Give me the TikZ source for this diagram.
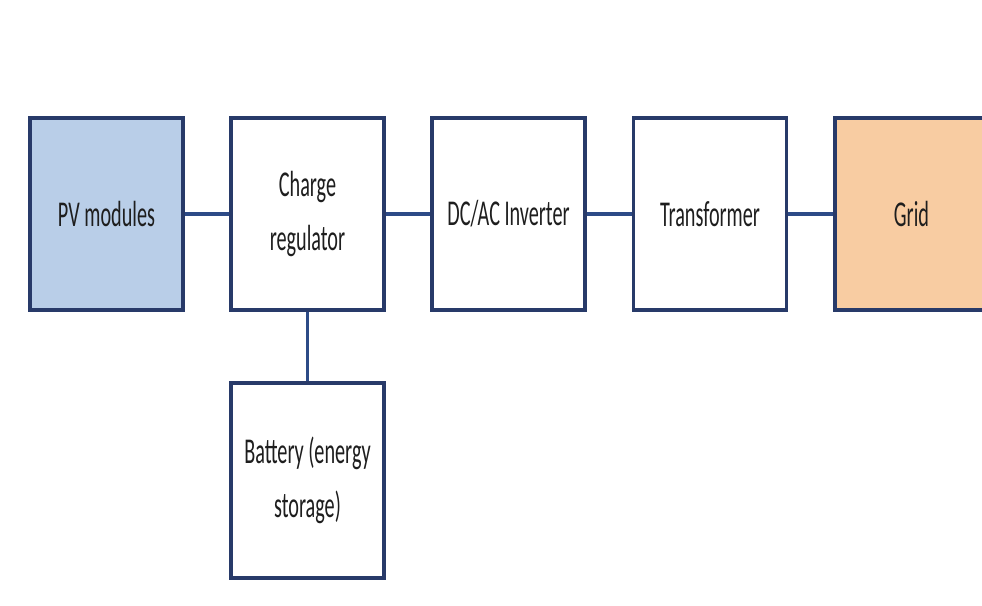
\documentclass[tikz,border=0pt]{standalone}
\usepackage{fontspec}
\setmainfont{Carlito}
\usepackage{graphicx}
\definecolor{boxline}{RGB}{40,58,105}
\definecolor{wireline}{RGB}{45,75,135}
\definecolor{pvfill}{RGB}{185,206,232}
\definecolor{gridfill}{RGB}{248,204,162}
\definecolor{txtgray}{RGB}{30,30,30}
\newcommand{\talltxt}[1]{\scalebox{1}[1.8]{#1}}
\begin{document}
\begin{tikzpicture}[
  blockbox/.style={draw=boxline,line width=1.8pt,fill=white,minimum width=3.06cm,minimum height=3.84cm,
    align=center,text=txtgray,inner sep=0pt,font=\fontsize{11.5}{31}\selectfont},
  wire/.style={draw=wireline,line width=2.2pt}]
\clip (0,0) rectangle (19.64,12.1);
\fill[white] (0,0) rectangle (19.64,12.1);
\node[blockbox,fill=pvfill] (pv) at (2.13,7.82) {\talltxt{PV modules}};
\node[blockbox] (reg) at (6.15,7.82) {\talltxt{Charge}\\\talltxt{regulator}};
\node[blockbox] (inv) at (10.17,7.82) {\talltxt{DC/AC Inverter}};
\node[blockbox] (trf) at (14.2,7.82) {\talltxt{Transformer}};
\node[blockbox,fill=gridfill] (grid) at (18.23,7.82) {\talltxt{Grid}};
\node[blockbox,minimum height=3.9cm] (bat) at (6.15,2.49) {\talltxt{Battery (energy}\\\talltxt{storage)}};
\draw[wire] (pv) -- (reg); \draw[wire] (reg) -- (inv); \draw[wire] (inv) -- (trf); \draw[wire] (trf) -- (grid);
\draw[wire] (reg) -- (bat);
\end{tikzpicture}
\end{document}
